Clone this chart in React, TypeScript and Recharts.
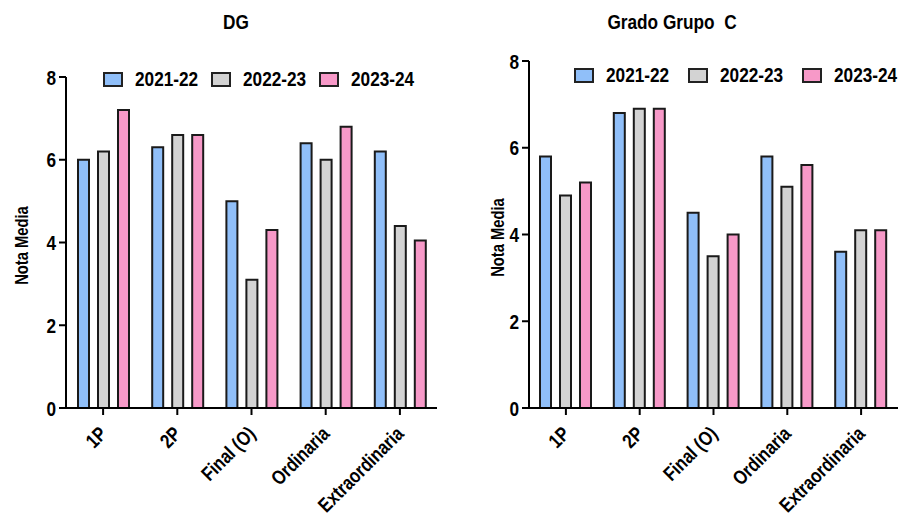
import { Bar, BarChart, Legend, XAxis, YAxis } from 'recharts';

const categories = ['1P', '2P', 'Final (O)', 'Ordinaria', 'Extraordinaria'];
const seriesNames = ['2021-22', '2022-23', '2023-24'];
const seriesColors = ['#90bff9', '#d3d3d3', '#f799c8'];

const dg2122 = [6.0, 6.3, 5.0, 6.4, 6.2];
const dg2223 = [6.2, 6.6, 3.1, 6.0, 4.4];
const dg2324 = [7.2, 6.6, 4.3, 6.8, 4.05];

const gc2122 = [5.8, 6.8, 4.5, 5.8, 3.6];
const gc2223 = [4.9, 6.9, 3.5, 5.1, 4.1];
const gc2324 = [5.2, 6.9, 4.0, 5.6, 4.1];

const yTicks = [0, 2, 4, 6, 8];

// no narrow font installed, so squeeze Liberation Sans horizontally
const FONT = '"Liberation Sans", Arial, sans-serif';
const SQ = 0.82;

function buildRows(a: number[], b: number[], c: number[]) {
  return categories.map((name, i) => ({ name, s0: a[i], s1: b[i], s2: c[i] }));
}

function AngledTick(props: any) {
  const { x, y, payload } = props;
  const tx = x + 5;
  const ty = y + 18;
  return (
    <text
      transform={`translate(${tx}, ${ty}) rotate(-45) scale(${SQ}, 1)`}
      textAnchor="end"
      fontFamily={FONT}
      fontWeight="bold"
      fontSize={20}
      fill="#000">
      {payload.value}
    </text>
  );
}

function ValueTick(props: any) {
  const { x, y, payload } = props;
  return (
    <text
      transform={`translate(${x}, ${y}) scale(${SQ}, 1)`}
      textAnchor="end"
      dy="0.36em"
      fontFamily={FONT}
      fontWeight="bold"
      fontSize={21}
      fill="#000">
      {payload.value}
    </text>
  );
}

function SeriesLegend({ gap }: { gap: number }) {
  return (
    <div style={{ display: 'flex', alignItems: 'center', fontFamily: FONT, fontWeight: 'bold', fontSize: 21, whiteSpace: 'nowrap' }}>
      {seriesNames.map((s, i) => (
        <div key={s} style={{ display: 'flex', alignItems: 'center', marginRight: gap }}>
          <span
            style={{
              display: 'inline-block',
              width: 20,
              height: 15,
              boxSizing: 'border-box',
              border: '2px solid #222',
              background: seriesColors[i],
              marginRight: 12,
            }}
          />
          <span style={{ display: 'inline-block', width: 64 }}>
            <span style={{ display: 'inline-block', transform: `scaleX(${SQ})`, transformOrigin: 'left center' }}>{s}</span>
          </span>
        </div>
      ))}
    </div>
  );
}

type PanelProps = {
  rows: any[];
  marginTop: number;
  marginRight: number;
  yWidth: number;
  legendTop: number;
  legendLeft: number;
  legendGap: number;
  labelX: number;
};

function Panel({ rows, marginTop, marginRight, yWidth, legendTop, legendLeft, legendGap, labelX }: PanelProps) {
  return (
    <BarChart
      width={451}
      height={521}
      data={rows}
      margin={{ top: marginTop, right: marginRight, bottom: 0, left: 0 }}
      barSize={11}
      barGap={9}>
      <XAxis
        dataKey="name"
        height={113}
        tickSize={7}
        axisLine={{ stroke: '#000', strokeWidth: 2 }}
        tickLine={{ stroke: '#000', strokeWidth: 2 }}
        tick={<AngledTick />}
        interval={0}
      />
      <YAxis
        width={yWidth}
        domain={[0, 8]}
        ticks={yTicks}
        tickSize={7}
        tickMargin={3}
        axisLine={{ stroke: '#000', strokeWidth: 2 }}
        tickLine={{ stroke: '#000', strokeWidth: 2 }}
        tick={<ValueTick />}
        label={{
          content: (p: any) => {
            const vb = p.viewBox;
            const cy = vb.y + vb.height / 2 + 3;
            return (
              <text
                transform={`translate(${labelX}, ${cy}) rotate(-90) scale(${SQ}, 1)`}
                textAnchor="middle"
                dominantBaseline="central"
                fontFamily={FONT}
                fontWeight="bold"
                fontSize={18}
                fill="#000">
                Nota Media
              </text>
            );
          },
        }}
      />
      <Legend
        layout="horizontal"
        verticalAlign="middle"
        align="center"
        wrapperStyle={{ top: legendTop, left: legendLeft, width: 'auto' }}
        content={() => <SeriesLegend gap={legendGap} />}
      />
      {seriesNames.map((s, i) => (
        <Bar
          key={s}
          dataKey={`s${i}`}
          name={s}
          fill={seriesColors[i]}
          stroke="#1a1a1a"
          strokeWidth={2}
          isAnimationActive={false}
        />
      ))}
    </BarChart>
  );
}

const titleStyle: any = {
  position: 'absolute',
  top: 11,
  width: 200,
  textAlign: 'center',
  fontFamily: FONT,
  fontWeight: 'bold',
  fontSize: 21,
  lineHeight: '21px',
  whiteSpace: 'pre',
  transform: `scaleX(${SQ})`,
  transformOrigin: 'center',
};

export default function App() {
  const dgRows = buildRows(dg2122, dg2223, dg2324);
  const gcRows = buildRows(gc2122, gc2223, gc2324);
  return (
    <div style={{ position: 'absolute', left: 0, top: 0, width: 902, height: 521, background: '#fff' }}>
      <div style={{ position: 'absolute', left: 0, top: 0 }}>
        <Panel
          rows={dgRows}
          marginTop={77}
          marginRight={14}
          yWidth={66}
          legendTop={67}
          legendLeft={103}
          legendGap={12}
          labelX={21}
        />
        <div style={{ ...titleStyle, left: 136 }}>DG</div>
      </div>
      <div style={{ position: 'absolute', left: 451, top: 0 }}>
        <Panel
          rows={gcRows}
          marginTop={61}
          marginRight={4}
          yWidth={78}
          legendTop={63}
          legendLeft={123}
          legendGap={18}
          labelX={46}
        />
        <div style={{ ...titleStyle, left: 121 }}>Grado Grupo  C</div>
      </div>
    </div>
  );
}
